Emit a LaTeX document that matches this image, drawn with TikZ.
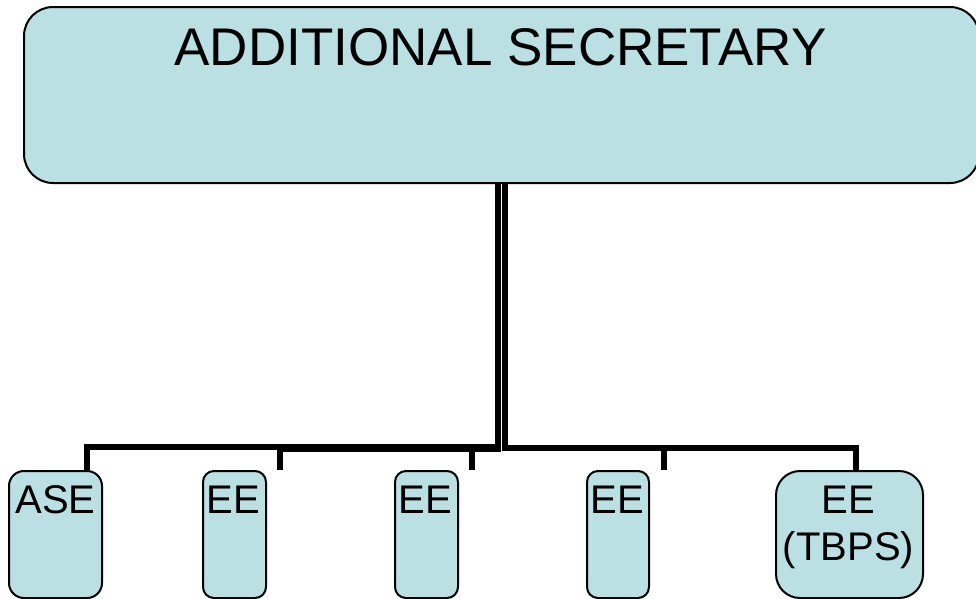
\documentclass[tikz,border=0pt]{standalone}
\usepackage{fontspec}
\setmainfont{Liberation Sans}
\definecolor{boxfill}{RGB}{187,224,227}
\begin{document}
\begin{tikzpicture}[x=1pt,y=-1pt,
  box/.style={draw=black, line width=2pt, fill=boxfill, rounded corners=#1,
    inner sep=0pt, anchor=north west},
  conn/.style={draw=black, line width=6pt, line join=miter},
  lbl/.style={anchor=base, inner sep=0pt, font=\fontsize{40}{47}\selectfont}]
\useasboundingbox (0,0) rectangle (976,598);
% top box
\node[box=29pt, minimum width=955pt, minimum height=176pt] (as) at (23,6) {};
\node[anchor=base, inner sep=0pt, font=\fontsize{53}{60}\selectfont] (ttl) at (500.5,65) {ADDITIONAL SECRETARY};
% child boxes
\node[box=15pt, minimum width=93pt, minimum height=127pt] (ase) at (8,470) {};
\node[box=11pt, minimum width=63pt, minimum height=127pt] (ee1) at (202,470) {};
\node[box=11pt, minimum width=63pt, minimum height=127pt] (ee2) at (394,470) {};
\node[box=11pt, minimum width=62pt, minimum height=127pt] (ee3) at (586,470) {};
\node[box=24pt, minimum width=147pt, minimum height=127pt] (tbps) at (775,470) {};
% labels
\node[lbl] (aset) at (55.5,513) {ASE};
\node[lbl] (ee1t) at (233.5,513) {EE};
\node[lbl] (ee2t) at (425.5,513) {EE};
\node[lbl] (ee3t) at (617,513) {EE};
\node[lbl] (tbpst) at (848.5,513) {EE};
\node[lbl] (tbpst2) at (848.5,560) {(TBPS)};
% connector ends
\coordinate (sl) at ([xshift=-4pt]as.south);
\coordinate (sr) at ([xshift=3pt]as.south);
\coordinate (t1) at (87,470);
\coordinate (t2) at (280,470);
\coordinate (t3) at (472,470);
\coordinate (t4) at (664,470);
\coordinate (t5) at (856,470);
% connectors
\draw[conn] (sl) -- ++(0,262.5) -| (t1);
\draw[conn] (sl) -- ++(0,264.5) -| (t2);
\draw[conn] (sl) -- ++(0,264.5) -| (t3);
\draw[conn] (sr) -- ++(0,263.5) -| (t4);
\draw[conn] (sr) -- ++(0,263.5) -| (t5);
\end{tikzpicture}
\end{document}
